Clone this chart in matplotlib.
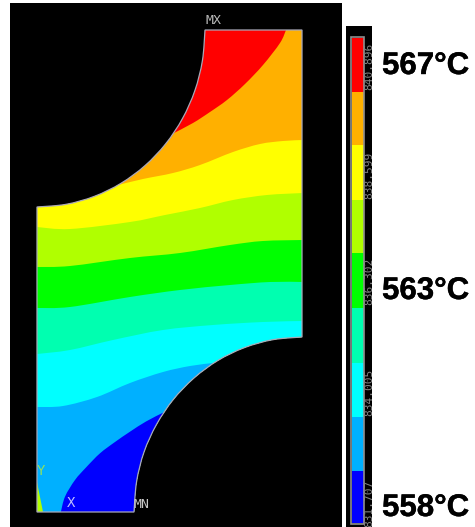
import matplotlib
matplotlib.use("Agg")
import matplotlib.patheffects as pe
import matplotlib.pyplot as plt
from matplotlib.patches import PathPatch, Polygon, Rectangle
from matplotlib.path import Path

W, H = 475, 527

# outline of the part, picture pixels
upper_arc_x = [205, 202.4, 194.9, 182.5, 165.7, 145, 121, 94.5, 66.2, 37]
upper_arc_y = [30, 60.7, 90.5, 118.5, 143.8, 165.6, 183.3, 196.3, 204.3, 207]
lower_arc_x = [134, 136.6, 144, 156.5, 173.3, 194, 218, 244.5, 272.8, 302]
lower_arc_y = [512, 481.6, 452.1, 424.5, 399.5, 378, 360.4, 347.6, 339.7, 337]

# contour lines between the bands
red_x = [172, 193, 210, 227, 245, 263, 280, 286]
red_y = [134, 123, 112, 100, 84, 65, 43, 30]
orange_x = [118, 143, 173, 200, 233, 260, 283, 303]
orange_y = [185, 179, 173, 165, 152, 144, 141, 140]
yellow_x = [37, 70, 130, 165, 200, 233, 267, 303]
yellow_y = [227, 229, 222, 215, 208, 200, 195, 193]
lime_x = [37, 70, 130, 180, 230, 263, 303]
lime_y = [267, 266, 258, 253, 245, 241, 240]
green_x = [37, 70, 130, 180, 230, 270, 303]
green_y = [308, 307, 297, 290, 285, 282, 282]
spring_x = [37, 70, 113, 163, 213, 263, 303]
spring_y = [354, 350, 340, 330, 325, 322, 321]
cyan_x = [37, 63, 97, 130, 163, 190, 213]
cyan_y = [407, 406, 397, 383, 372, 366, 363]
azure_x = [60.7, 65, 75, 86, 100, 115, 130, 146, 163]
azure_y = [512.7, 496.7, 480, 467.5, 453.3, 442, 431.7, 421.5, 412.7]
wedge_x = [37, 37, 43]
wedge_y = [482, 512, 512]

band_colors = ["#ff0000", "#ffb000", "#ffff00", "#b0ff00", "#00ff00",
               "#00ffb0", "#00ffff", "#00b0ff", "#0000ff"]
bar_edges = [38, 91.7, 145, 200, 253, 308, 362.7, 416.7, 471, 523]
bar_labels = ["840.896", "838.599", "836.302", "834.005", "831.707"]
bar_label_y = [66, 175, 281, 392, 503]
temp_labels = ["567°C", "563°C", "558°C"]
temp_y = [66, 291, 508]


def smooth_path(x, y, before=(), after=()):
    """Bezier through the points (catmull-rom handles), straight lines for the rest"""
    pts = list(zip(x, y))
    verts, codes = [], []
    for p in before:
        verts.append(p)
        codes.append(Path.LINETO)
    verts.append(pts[0])
    codes.append(Path.LINETO)
    for i in range(len(pts) - 1):
        p0 = pts[max(i - 1, 0)]
        p1, p2 = pts[i], pts[i + 1]
        p3 = pts[min(i + 2, len(pts) - 1)]
        c1 = (p1[0] + (p2[0] - p0[0]) / 6, p1[1] + (p2[1] - p0[1]) / 6)
        c2 = (p2[0] - (p3[0] - p1[0]) / 6, p2[1] - (p3[1] - p1[1]) / 6)
        verts += [c1, c2, p2]
        codes += [Path.CURVE4] * 3
    for p in after:
        verts.append(p)
        codes.append(Path.LINETO)
    verts.append(verts[0])
    codes.append(Path.CLOSEPOLY)
    codes[0] = Path.MOVETO
    return verts, codes


fig = plt.figure(figsize=(W / 100, H / 100), dpi=100, facecolor="white")
ax = fig.add_axes([0, 0, 1, 1])
ax.set_xlim(0, W)
ax.set_ylim(H, 0)
ax.axis("off")

ax.add_patch(Rectangle((10, 3), 332, 524, color="black", lw=0))
ax.add_patch(Rectangle((346, 26), 26, 501, color="black", lw=0))

# part outline: two arcs joined by straight edges
v1, c1 = smooth_path(upper_arc_x, upper_arc_y)
v2, c2 = smooth_path(lower_arc_x, lower_arc_y)
part_verts = v1[:-1] + [(37, 512)] + v2[:-1] + [(302, 30), v1[0]]
part_codes = c1[:-1] + [Path.LINETO] + [Path.LINETO] + c2[1:-1] + [Path.LINETO, Path.CLOSEPOLY]
part_path = Path(part_verts, part_codes)

# bands are painted from the top down, every one covers all that lies below its contour
curves = [(red_x, red_y), (orange_x, orange_y), (yellow_x, yellow_y), (lime_x, lime_y),
          (green_x, green_y), (spring_x, spring_y), (cyan_x, cyan_y)]
base = ax.add_patch(PathPatch(part_path, facecolor=band_colors[0], lw=0, zorder=1))
for i, (cx, cy) in enumerate(curves):
    if i == 0:
        verts, codes = smooth_path(cx, cy, after=[(310, 30), (310, 530), (30, 530), (30, 207)])
    else:
        verts, codes = smooth_path(
            cx, cy,
            before=[(20, 530), (20, cy[0])],
            after=[(340, cy[-1]), (340, 530)],
        )
    band = PathPatch(Path(verts, codes), facecolor=band_colors[i + 1], lw=0, zorder=2 + i)
    ax.add_patch(band)
    band.set_clip_path(base)
verts, codes = smooth_path(azure_x, azure_y, before=[(azure_x[0], 530)], after=[(200, 412), (200, 530)])
blue = PathPatch(Path(verts, codes), facecolor=band_colors[8], lw=0, zorder=10)
ax.add_patch(blue)
blue.set_clip_path(base)
ax.add_patch(Polygon(list(zip(wedge_x, wedge_y)), closed=True, color=band_colors[3], lw=0, zorder=11))
ax.add_patch(PathPatch(part_path, facecolor="none", edgecolor="#a8a8b8", lw=0.9, zorder=12))

mono = "DejaVu Sans Mono"
ax.text(205, 21, "MX", color="#b8b8b8", fontsize=9.5, family=mono, va="center")
ax.text(134, 505, "MN", color="#c8c8c8", fontsize=9.5, family=mono, va="center", zorder=13)
ax.text(71, 503, "X", color="#c0c0ff", fontsize=10, family=mono, ha="center", va="center", zorder=13)
ax.text(41, 471, "Y", color="#90e060", fontsize=10, family=mono, ha="center", va="center", zorder=13)

# colour bar
ax.add_patch(Rectangle((351, 37), 13, 487, facecolor="none", edgecolor="#909090", lw=1.2, zorder=3))
for color, top, bottom in zip(band_colors, bar_edges[:-1], bar_edges[1:]):
    ax.add_patch(Rectangle((352, top), 11.5, bottom - top, color=color, lw=0, zorder=2))
for label, y in zip(bar_labels, bar_label_y):
    ax.text(369, y, label, color="#858585", fontsize=8, family=mono,
            rotation=90, ha="center", va="center")
for label, y in zip(temp_labels, temp_y):
    ax.text(382, y, label, color="black", fontsize=22.5, fontweight="bold",
            family="Liberation Sans", va="center",
            path_effects=[pe.withStroke(linewidth=0.3, foreground="black")])

fig.savefig("out.png", dpi=100)
